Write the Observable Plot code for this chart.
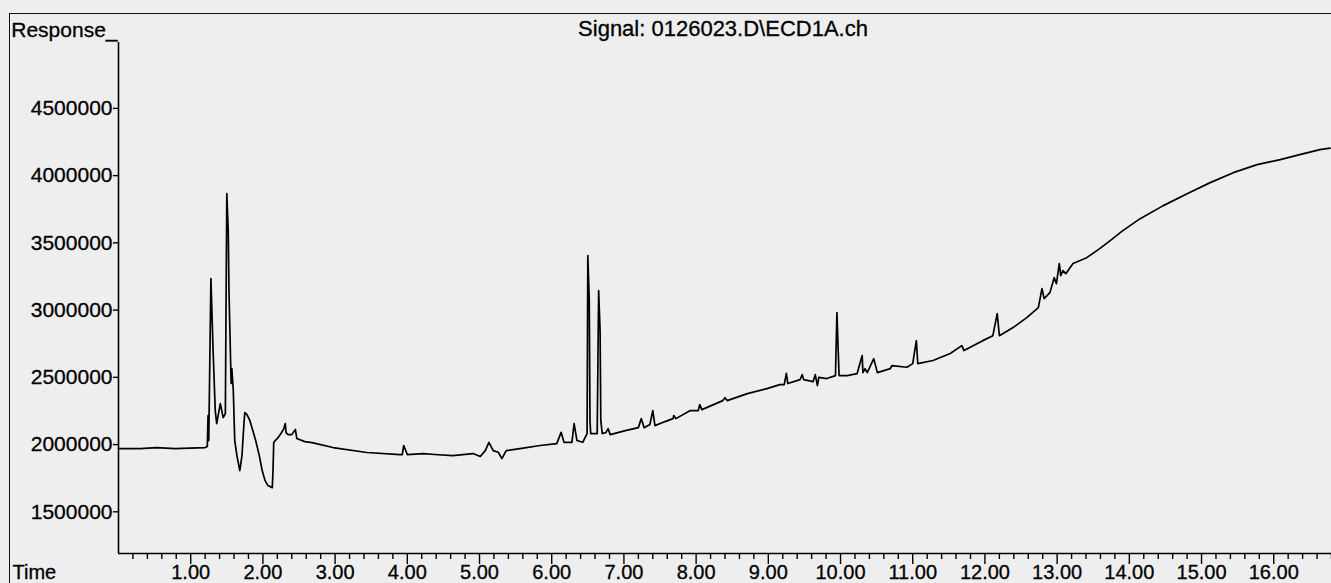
<!DOCTYPE html>
<html>
<head>
<meta charset="utf-8">
<script src="https://cdn.jsdelivr.net/npm/d3@7"></script>
<script src="https://cdn.jsdelivr.net/npm/@observablehq/plot@0.6"></script>
<style>
  html, body { margin: 0; padding: 0; background: #eeeeee; overflow: hidden; }
  #wrap { position: relative; width: 1331px; height: 583px; }
  #border { position: absolute; left: 9px; top: 13px; right: -4px; bottom: -4px;
            border-left: 1.5px solid #111; border-top: 1.5px solid #111; pointer-events: none; }
</style>
</head>
<body>
<div id="wrap"><div id="border"></div></div>
<script>
// Chromatogram trace: retention time (min) and detector response
const times = [
  0.00, 0.30, 0.53, 0.78, 1.20, 1.23, 1.24, 1.25, 1.28, 1.31, 1.34, 1.36, 1.41, 1.45, 1.48,
  1.49, 1.50, 1.52, 1.53, 1.56, 1.57, 1.59, 1.61, 1.64, 1.68, 1.71, 1.74, 1.75, 1.78, 1.82,
  1.86, 1.90, 1.95, 1.99, 2.03, 2.07, 2.13, 2.14, 2.15, 2.17, 2.21, 2.25, 2.29, 2.31, 2.32,
  2.35, 2.40, 2.45, 2.47, 2.58, 2.68, 2.97, 3.44, 3.90, 3.93, 3.95, 4.00, 4.22, 4.38, 4.63,
  4.91, 5.01, 5.08, 5.13, 5.19, 5.26, 5.31, 5.37, 5.56, 5.84, 6.07, 6.13, 6.17, 6.28, 6.31,
  6.35, 6.43, 6.49, 6.50, 6.52, 6.53, 6.54, 6.63, 6.65, 6.67, 6.68, 6.70, 6.75, 6.78, 6.81,
  7.02, 7.20, 7.24, 7.28, 7.36, 7.40, 7.43, 7.57, 7.68, 7.69, 7.72, 7.92, 8.03, 8.05, 8.08,
  8.37, 8.40, 8.43, 8.71, 8.98, 9.16, 9.22, 9.25, 9.27, 9.44, 9.47, 9.49, 9.62, 9.65, 9.68,
  9.70, 9.81, 9.93, 9.95, 9.98, 10.09, 10.23, 10.30, 10.31, 10.34, 10.37, 10.46, 10.51, 10.69, 10.71,
  10.92, 11.00, 11.05, 11.07, 11.28, 11.52, 11.68, 11.71, 11.97, 12.11, 12.17, 12.20, 12.39, 12.58, 12.74,
  12.79, 12.82, 12.90, 12.96, 12.99, 13.03, 13.05, 13.08, 13.12, 13.22, 13.41, 13.59, 13.77, 13.91, 14.15,
  14.47, 14.80, 15.12, 15.44, 15.77, 16.09, 16.36, 16.64, 16.78
];
const responses = [
  1970000, 1970000, 1978000, 1970000, 1978000, 1985000, 2216000, 2030000, 3234000, 2699000, 2253000, 2156000, 2305000, 2201000, 2230000,
  3071000, 3866000, 3591000, 3145000, 2454000, 2565000, 2401000, 2030000, 1918000, 1807000, 1918000, 2178000, 2238000, 2223000, 2178000,
  2104000, 2030000, 1918000, 1807000, 1732000, 1695000, 1680000, 1807000, 2015000, 2030000, 2052000, 2082000, 2119000, 2156000, 2089000,
  2074000, 2074000, 2112000, 2045000, 2022000, 2015000, 1978000, 1941000, 1926000, 1926000, 1993000, 1926000, 1933000, 1926000, 1918000,
  1933000, 1911000, 1955000, 2017000, 1955000, 1943000, 1896000, 1955000, 1970000, 1993000, 2007000, 2091000, 2017000, 2017000, 2156000,
  2030000, 2017000, 2082000, 3405000, 3071000, 2178000, 2082000, 2082000, 3145000, 2848000, 2178000, 2082000, 2089000, 2119000, 2074000,
  2104000, 2126000, 2193000, 2126000, 2149000, 2253000, 2141000, 2171000, 2193000, 2216000, 2193000, 2253000, 2253000, 2297000, 2260000,
  2327000, 2349000, 2327000, 2379000, 2416000, 2446000, 2446000, 2530000, 2454000, 2483000, 2520000, 2483000, 2468000, 2520000, 2439000,
  2500000, 2491000, 2513000, 2981000, 2513000, 2513000, 2528000, 2662000, 2535000, 2565000, 2535000, 2639000, 2535000, 2565000, 2587000,
  2575000, 2602000, 2773000, 2602000, 2625000, 2677000, 2736000, 2699000, 2773000, 2810000, 2974000, 2810000, 2870000, 2944000, 3019000,
  3160000, 3086000, 3130000, 3242000, 3197000, 3346000, 3257000, 3294000, 3271000, 3346000, 3390000, 3457000, 3532000, 3591000, 3680000,
  3777000, 3866000, 3948000, 4022000, 4082000, 4119000, 4156000, 4193000, 4204000
];

const xDomain = [0, 16.8];
const yDomain = [1190000, 4990000];
const xMajorTicks = [1, 2, 3, 4, 5, 6, 7, 8, 9, 10, 11, 12, 13, 14, 15, 16];
const xMinorTicks = d3.range(1, 85).map(i => i / 5).filter(t => Math.abs(t - Math.round(t)) > 1e-6);
const yTicks = [1500000, 2000000, 2500000, 3000000, 3500000, 4000000, 4500000];

const titleText = "Signal: 0126023.D\\ECD1A.ch";
const yLabelText = "Response_";
const xLabelText = "Time";

const trace = times.map((t, i) => ({t, v: responses[i]}));
const font = "'Liberation Sans', Arial, Helvetica, sans-serif";

const chart = Plot.plot({
  width: 1331,
  height: 583,
  marginLeft: 118,
  marginRight: 0,
  marginTop: 42,
  marginBottom: 30,
  style: {background: "transparent", fontFamily: font, fontSize: "21px", color: "#000", overflow: "visible"},
  x: {domain: xDomain},
  y: {domain: yDomain},
  marks: [
    Plot.ruleY([yDomain[0]], {stroke: "#000", strokeWidth: 1.6}),
    Plot.ruleX([xDomain[0]], {stroke: "#000", strokeWidth: 1.6}),
    Plot.axisX({ticks: xMinorTicks, tickSize: 6, strokeWidth: 1.4, fill: "none", label: null}),
    Plot.axisX({ticks: xMajorTicks, tickSize: 11, tickPadding: 0, strokeWidth: 1.4,
                tickFormat: d => d.toFixed(2), fontSize: 20, label: null,
                textStroke: "#000", textStrokeWidth: 0.3}),
    Plot.axisY({ticks: yTicks, tickSize: 5, tickPadding: 1, strokeWidth: 1.4,
                tickFormat: d => String(d), fontSize: 21, label: null,
                textStroke: "#000", textStrokeWidth: 0.3}),
    Plot.line(trace, {x: "t", y: "v", stroke: "#000", strokeWidth: 1.7, strokeLinejoin: "round"}),
    Plot.text([titleText], {frameAnchor: "top", dx: -2, dy: -7, lineAnchor: "bottom", fontSize: 22, fill: "#000", stroke: "#000", strokeWidth: 0.3}),
    Plot.text([yLabelText], {frameAnchor: "top-left", textAnchor: "end", dx: -1, dy: -6, lineAnchor: "bottom", fontSize: 21, fill: "#000", stroke: "#000", strokeWidth: 0.3}),
    Plot.text([xLabelText], {frameAnchor: "bottom-left", textAnchor: "start", dx: -106, dy: 11, lineAnchor: "top", fontSize: 20, fill: "#000", stroke: "#000", strokeWidth: 0.3})
  ]
});
document.getElementById("wrap").prepend(chart);
</script>
</body>
</html>
